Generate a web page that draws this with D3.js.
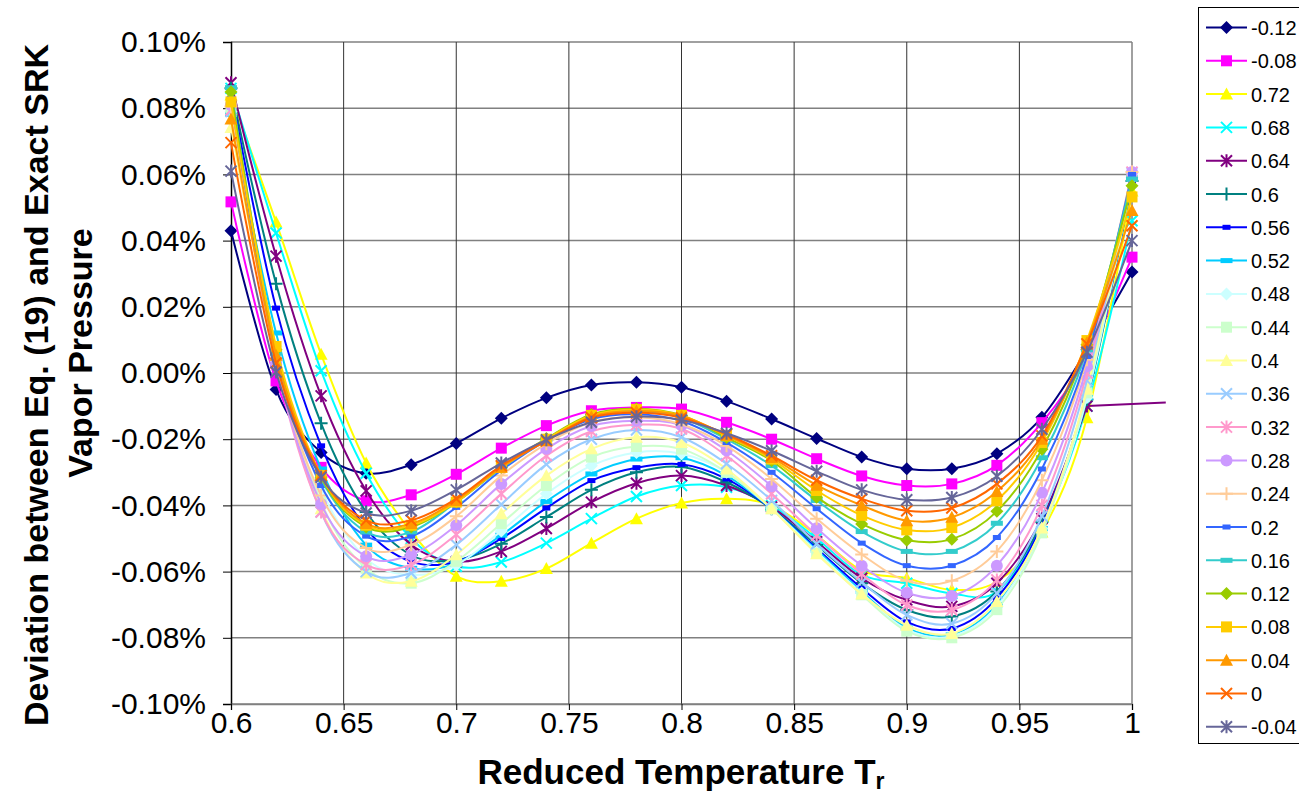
<!DOCTYPE html>
<html>
<head>
<meta charset="utf-8">
<script src="https://cdn.jsdelivr.net/npm/d3@7"></script>
<style>
body { margin: 0; background: #fff; }
text { font-family: Arial, "Liberation Sans", sans-serif; }
</style>
</head>
<body>
<svg id="chart" width="1299" height="793"></svg>
<script>
// reduced temperature points
var tr = [0.60, 0.62, 0.64, 0.66, 0.68, 0.70, 0.72, 0.74, 0.76, 0.78, 0.80,
          0.82, 0.84, 0.86, 0.88, 0.90, 0.92, 0.94, 0.96, 0.98, 1.00];
// the 0.64 series runs on flat past Tr = 1
var tr064 = [0.60, 0.62, 0.64, 0.66, 0.68, 0.70, 0.72, 0.74, 0.76, 0.78, 0.80,
             0.82, 0.84, 0.86, 0.88, 0.90, 0.92, 0.94, 0.96, 0.98, 1.015];

var yTicks = [-0.10, -0.08, -0.06, -0.04, -0.02, 0, 0.02, 0.04, 0.06, 0.08, 0.10];
var xTicks = [0.6, 0.65, 0.7, 0.75, 0.8, 0.85, 0.9, 0.95, 1];

// deviation in %, one array per acentric factor
var dev_m012 = [0.043, -0.005, -0.024, -0.0303, -0.0277, -0.0213, -0.0137, -0.0075, -0.0036, -0.0028, -0.0043, -0.0085, -0.0139, -0.0198, -0.0254, -0.0289, -0.0289, -0.0244, -0.0134, 0.007, 0.0305];
var dev_m008 = [0.0517, -0.0024, -0.0285, -0.0386, -0.0368, -0.0306, -0.0227, -0.0159, -0.0114, -0.0104, -0.0109, -0.0149, -0.020, -0.0259, -0.0311, -0.034, -0.0335, -0.0279, -0.015, 0.0048, 0.035];
var dev_072 = [0.084, 0.0456, 0.0057, -0.0272, -0.048, -0.0614, -0.0629, -0.0591, -0.0514, -0.044, -0.0393, -0.038, -0.040, -0.049, -0.0597, -0.062, -0.0655, -0.063, -0.048, -0.0135, 0.055];
var dev_068 = [0.086, 0.0423, 0.0007, -0.0303, -0.050, -0.0584, -0.0571, -0.0514, -0.044, -0.0373, -0.034, -0.0345, -0.040, -0.050, -0.061, -0.0635, -0.0666, -0.066, -0.046, -0.010, 0.046];
var dev_064 = [0.0877, 0.0353, -0.0069, -0.0356, -0.0519, -0.057, -0.0539, -0.047, -0.039, -0.0333, -0.031, -0.034, -0.0405, -0.051, -0.062, -0.0686, -0.0705, -0.0635, -0.044, -0.010, -0.0089];
var dev_060 = [0.086, 0.027, -0.0152, -0.042, -0.055, -0.0565, -0.0516, -0.0435, -0.0353, -0.030, -0.0284, -0.033, -0.041, -0.052, -0.0635, -0.0716, -0.0736, -0.066, -0.045, -0.008, 0.058];
var dev_056 = [0.085, 0.0196, -0.022, -0.047, -0.057, -0.057, -0.050, -0.0408, -0.0325, -0.0286, -0.0276, -0.032, -0.041, -0.053, -0.065, -0.0752, -0.0772, -0.068, -0.046, -0.006, 0.058];
var dev_052 = [0.0782, 0.0121, -0.029, -0.052, -0.059, -0.0575, -0.049, -0.0388, -0.0305, -0.026, -0.0256, -0.031, -0.041, -0.0535, -0.066, -0.077, -0.079, -0.070, -0.047, -0.0074, 0.059];
var dev_048 = [0.079, 0.008, -0.035, -0.056, -0.061, -0.058, -0.0477, -0.0365, -0.028, -0.024, -0.0244, -0.030, -0.041, -0.054, -0.0665, -0.0775, -0.0795, -0.0705, -0.047, -0.0074, 0.059];
var dev_044 = [0.080, 0.006, -0.039, -0.059, -0.0635, -0.0569, -0.0455, -0.034, -0.0254, -0.0222, -0.023, -0.030, -0.041, -0.0545, -0.067, -0.078, -0.080, -0.0715, -0.0483, -0.006, 0.0595];
var dev_040 = [0.0742, 0.005, -0.041, -0.0604, -0.0629, -0.0549, -0.0425, -0.031, -0.0229, -0.0194, -0.021, -0.029, -0.041, -0.0546, -0.0668, -0.0762, -0.0787, -0.069, -0.0468, -0.0049, 0.060];
var dev_036 = [0.079, 0.004, -0.042, -0.060, -0.0604, -0.0519, -0.0397, -0.0276, -0.020, -0.0172, -0.0194, -0.0274, -0.0385, -0.0516, -0.0632, -0.0731, -0.0757, -0.0665, -0.0432, -0.0023, 0.0605];
var dev_032 = [0.0795, 0.003, -0.042, -0.0579, -0.0579, -0.0488, -0.0365, -0.025, -0.0176, -0.0156, -0.0169, -0.025, -0.0365, -0.049, -0.0607, -0.0701, -0.0716, -0.0625, -0.040, 0.000, 0.0607];
var dev_028 = [0.081, 0.003, -0.0396, -0.0554, -0.0549, -0.046, -0.0335, -0.0229, -0.016, -0.0144, -0.0158, -0.0234, -0.0342, -0.0469, -0.0582, -0.0664, -0.0674, -0.0582, -0.0362, 0.002, 0.0607];
var dev_024 = [0.0805, 0.004, -0.037, -0.0529, -0.0519, -0.0433, -0.031, -0.0214, -0.0149, -0.0134, -0.0155, -0.022, -0.032, -0.044, -0.0548, -0.0628, -0.0628, -0.0539, -0.0324, 0.004, 0.0607];
var dev_020 = [0.083, 0.005, -0.034, -0.0493, -0.0493, -0.0406, -0.0294, -0.0204, -0.014, -0.0125, -0.0145, -0.021, -0.030, -0.041, -0.0514, -0.0582, -0.0582, -0.0497, -0.029, 0.005, 0.060];
var dev_016 = [0.0862, 0.006, -0.032, -0.048, -0.048, -0.039, -0.0288, -0.020, -0.013, -0.0115, -0.0135, -0.020, -0.028, -0.0385, -0.0479, -0.0539, -0.0539, -0.0454, -0.0256, 0.007, 0.0586];
var dev_012 = [0.0849, 0.007, -0.0315, -0.0465, -0.0465, -0.039, -0.0285, -0.0198, -0.0125, -0.0108, -0.0128, -0.0195, -0.0265, -0.0375, -0.0456, -0.0505, -0.0502, -0.0418, -0.023, 0.0085, 0.0566];
var dev_008 = [0.0819, 0.008, -0.031, -0.046, -0.046, -0.039, -0.0285, -0.020, -0.0128, -0.011, -0.0128, -0.019, -0.026, -0.0355, -0.043, -0.0474, -0.0467, -0.0386, -0.021, 0.0098, 0.0532];
var dev_004 = [0.0767, 0.0054, -0.031, -0.0455, -0.0455, -0.0385, -0.0285, -0.0205, -0.0132, -0.0115, -0.013, -0.0188, -0.0255, -0.0339, -0.040, -0.0446, -0.0436, -0.0358, -0.020, 0.0092, 0.0491];
var dev_000 = [0.0696, 0.003, -0.031, -0.0445, -0.0445, -0.038, -0.028, -0.0205, -0.0135, -0.012, -0.0135, -0.0185, -0.025, -0.0324, -0.038, -0.0416, -0.0408, -0.0335, -0.019, 0.0088, 0.0445];
var dev_m004 = [0.061, 0.0003, -0.0315, -0.0423, -0.0416, -0.0353, -0.0272, -0.0202, -0.0149, -0.0132, -0.0142, -0.0182, -0.0235, -0.0297, -0.0353, -0.0383, -0.0376, -0.0312, -0.017, 0.0063, 0.040];

var seriesNames = ["-0.12", "-0.08", "0.72", "0.68", "0.64", "0.6", "0.56", "0.52", "0.48", "0.44", "0.4",
                   "0.36", "0.32", "0.28", "0.24", "0.2", "0.16", "0.12", "0.08", "0.04", "0", "-0.04"];
var seriesValues = [dev_m012, dev_m008, dev_072, dev_068, dev_064, dev_060, dev_056, dev_052, dev_048, dev_044, dev_040,
                    dev_036, dev_032, dev_028, dev_024, dev_020, dev_016, dev_012, dev_008, dev_004, dev_000, dev_m004];

var colors = ["#000080", "#FF00FF", "#FFFF00", "#00FFFF", "#800080", "#008080", "#0000FF", "#00CCFF", "#CCFFFF", "#CCFFCC", "#FFFF99",
              "#99CCFF", "#FF99CC", "#CC99FF", "#FFCC99", "#3366FF", "#33CCCC", "#99CC00", "#FFCC00", "#FF9900", "#FF6600", "#666699"];
var markers = ["diamond", "square", "triangle", "x", "star", "plus", "shortdash", "longdash", "diamond", "square", "triangle",
               "x", "star", "circle", "plus", "shortdash", "longdash", "diamond", "square", "triangle", "x", "star"];

var svg = d3.select('#chart');

var x = d3.scaleLinear().domain([0.6, 1]).range([231, 1132]);
var y = d3.scaleLinear().domain([-0.1, 0.1]).range([704, 42]);

// grid
var grid = svg.append('g');
grid.selectAll('line.h')
    .data(yTicks)
    .enter().append('line')
    .attr('x1', x(0.6)).attr('x2', x(1))
    .attr('y1', function(d) { return y(d); })
    .attr('y2', function(d) { return y(d); })
    .style('stroke', '#808080')
    .style('stroke-width', '1.5px');
grid.selectAll('line.v')
    .data(xTicks.slice(1))
    .enter().append('line')
    .attr('y1', y(0.1)).attr('y2', y(-0.1))
    .attr('x1', function(d) { return x(d); })
    .attr('x2', function(d) { return x(d); })
    .style('stroke', function(d) { return d === 1 ? '#808080' : '#333'; })
    .style('stroke-width', function(d) { return d === 1 ? '1.5px' : '1px'; });

// axes
var yAxis = svg.append('g')
    .attr('transform', 'translate(' + x(0.6) + ',0)')
    .call(d3.axisLeft(y).tickValues(yTicks).tickSize(8).tickPadding(17)
        .tickFormat(function(d) { return d.toFixed(2) + '%'; }));
yAxis.selectAll('text').style('font-size', '30px').style('fill', '#000')
    .attr('font-family', 'Arial, Liberation Sans, sans-serif');
yAxis.selectAll('line').style('stroke', '#000');
yAxis.select('.domain').style('stroke', '#000').style('stroke-width', '1.5px');

var xAxis = svg.append('g')
    .attr('transform', 'translate(0,' + y(-0.1) + ')')
    .call(d3.axisBottom(x).tickValues(xTicks).tickSize(6).tickPadding(2)
        .tickFormat(function(d) { return String(+d.toFixed(2)); }));
xAxis.selectAll('text').style('font-size', '30px').style('fill', '#000')
    .attr('font-family', 'Arial, Liberation Sans, sans-serif');
xAxis.selectAll('line').style('stroke', '#000');
xAxis.select('.domain').style('stroke', '#808080').style('stroke-width', '1.5px');

// marker drawing
function drawMarker(g, type, color, cx, cy) {
    var s = 6.5;
    if (type === 'diamond') {
        g.append('path').attr('d', 'M' + cx + ',' + (cy - s) + 'L' + (cx + s) + ',' + cy + 'L' + cx + ',' + (cy + s) + 'L' + (cx - s) + ',' + cy + 'Z')
            .style('fill', color);
    } else if (type === 'square') {
        g.append('rect').attr('x', cx - 5.5).attr('y', cy - 5.5).attr('width', 11).attr('height', 11).style('fill', color);
    } else if (type === 'triangle') {
        g.append('path').attr('d', 'M' + cx + ',' + (cy - 6.5) + 'L' + (cx + 6.5) + ',' + (cy + 5.5) + 'L' + (cx - 6.5) + ',' + (cy + 5.5) + 'Z')
            .style('fill', color);
    } else if (type === 'circle') {
        g.append('circle').attr('cx', cx).attr('cy', cy).attr('r', 6).style('fill', color);
    } else if (type === 'shortdash') {
        g.append('rect').attr('x', cx - 4).attr('y', cy - 2.5).attr('width', 8).attr('height', 5).style('fill', color);
    } else if (type === 'longdash') {
        g.append('rect').attr('x', cx - 6).attr('y', cy - 2.5).attr('width', 12).attr('height', 5).style('fill', color);
    } else {
        var p = '';
        if (type === 'x' || type === 'star') {
            p += 'M' + (cx - 5.5) + ',' + (cy - 5.5) + 'L' + (cx + 5.5) + ',' + (cy + 5.5);
            p += 'M' + (cx - 5.5) + ',' + (cy + 5.5) + 'L' + (cx + 5.5) + ',' + (cy - 5.5);
        }
        if (type === 'star' || type === 'plus') {
            p += 'M' + cx + ',' + (cy - 6.5) + 'L' + cx + ',' + (cy + 6.5);
        }
        if (type === 'plus') {
            p += 'M' + (cx - 6.5) + ',' + cy + 'L' + (cx + 6.5) + ',' + cy;
        }
        g.append('path').attr('d', p).style('stroke', color).style('stroke-width', '2px').style('fill', 'none');
    }
}

var smooth = d3.line()
    .x(function(d) { return x(d[0]); })
    .y(function(d) { return y(d[1]); })
    .curve(d3.curveCardinal.tension(0));
var straight = d3.line()
    .x(function(d) { return x(d[0]); })
    .y(function(d) { return y(d[1]); });

var plot = svg.append('g');
seriesValues.forEach(function(vals, i) {
    var xs = seriesNames[i] === '0.64' ? tr064 : tr;
    var pts = vals.map(function(v, j) { return [xs[j], v]; });
    var inside = pts.filter(function(p) { return p[0] <= 1.0001; });
    var g = plot.append('g');
    g.append('path')
        .attr('d', smooth(inside))
        .style('fill', 'none')
        .style('stroke', colors[i])
        .style('stroke-width', '2px');
    if (inside.length < pts.length) {
        // run-out beyond the axis end, drawn straight
        g.append('path')
            .attr('d', straight(pts.slice(inside.length - 1)))
            .style('fill', 'none')
            .style('stroke', colors[i])
            .style('stroke-width', '2px');
    }
    inside.forEach(function(p) {
        drawMarker(g, markers[i], colors[i], x(p[0]), y(p[1]));
    });
});

// legend
var legend = svg.append('g');
legend.append('rect')
    .attr('x', 1198.5).attr('y', 7.5).attr('width', 130).attr('height', 736)
    .style('fill', '#fff').style('stroke', '#000').style('stroke-width', '1px');
seriesNames.forEach(function(name, i) {
    var ly = 27.5 + i * 33.3;
    var g = legend.append('g');
    g.append('line').attr('x1', 1206).attr('x2', 1247).attr('y1', ly).attr('y2', ly)
        .style('stroke', colors[i]).style('stroke-width', '2px');
    drawMarker(g, markers[i], colors[i], 1226.5, ly);
    g.append('text').attr('x', 1251).attr('y', ly + 7.5)
        .style('font-size', '20px').text(name);
});

// titles
var xt = svg.append('text')
    .attr('x', 681).attr('y', 784)
    .attr('text-anchor', 'middle')
    .style('font-size', '35px').style('font-weight', 'bold');
xt.append('tspan').text('Reduced Temperature T');
xt.append('tspan').attr('dy', 5).style('font-size', '23px').text('r');

svg.append('text')
    .attr('transform', 'translate(48,385) rotate(-90)')
    .attr('text-anchor', 'middle')
    .style('font-size', '34px').style('font-weight', 'bold')
    .text('Deviation between Eq. (19) and Exact SRK');
svg.append('text')
    .attr('transform', 'translate(92,353) rotate(-90)')
    .attr('text-anchor', 'middle')
    .style('font-size', '34px').style('font-weight', 'bold')
    .text('Vapor Pressure');
</script>
</body>
</html>
